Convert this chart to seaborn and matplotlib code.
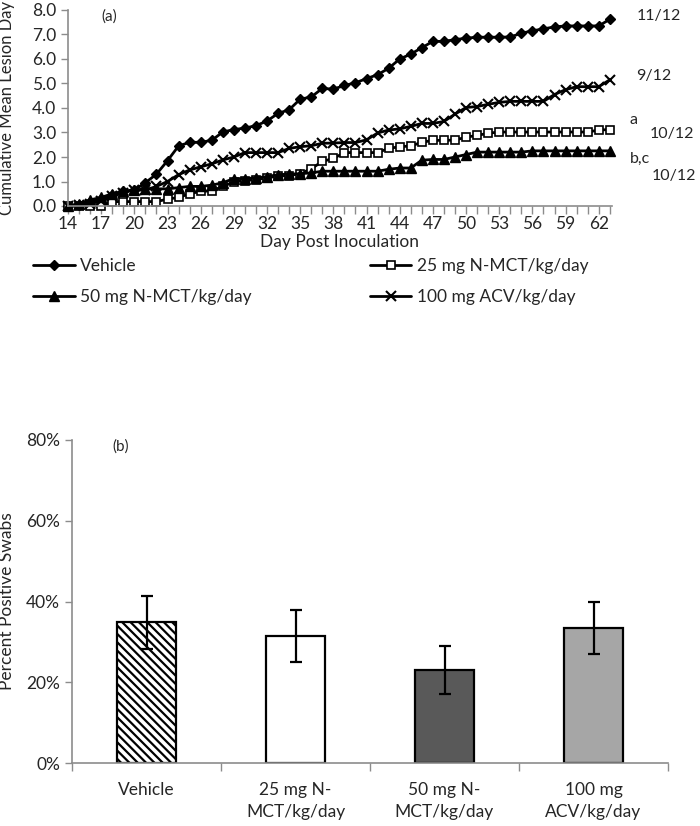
import numpy as np
import pandas as pd
import matplotlib
matplotlib.use("Agg")
import matplotlib.pyplot as plt
from matplotlib.lines import Line2D
from matplotlib.ticker import MultipleLocator, FuncFormatter
import seaborn as sns

sns.set_theme(style="white")
plt.rcParams['font.family'] = ['Lato', 'DejaVu Sans']
plt.rcParams['hatch.linewidth'] = 1.6

# ---------------- data: panel (a) ----------------
days = list(range(14, 64))
vehicle = [0, 0.05, 0.15, 0.3, 0.45, 0.6, 0.65, 0.95, 1.3, 1.85,
           2.45, 2.6, 2.6, 2.68, 3.02, 3.12, 3.18, 3.28, 3.47, 3.78,
           3.93, 4.36, 4.45, 4.8, 4.77, 4.92, 5.03, 5.2, 5.36, 5.62,
           6.0, 6.2, 6.46, 6.72, 6.72, 6.79, 6.85, 6.89, 6.89, 6.89,
           6.9, 7.05, 7.15, 7.23, 7.31, 7.35, 7.35, 7.35, 7.35, 7.62]
nmct25 = [0, 0, 0, 0, 0.18, 0.18, 0.18, 0.18, 0.18, 0.28,
          0.35, 0.5, 0.6, 0.62, 0.8, 0.98, 1.04, 1.07, 1.15, 1.22,
          1.24, 1.32, 1.52, 1.82, 1.94, 2.18, 2.18, 2.18, 2.18, 2.35,
          2.42, 2.45, 2.6, 2.68, 2.68, 2.69, 2.81, 2.88, 2.97, 3.02,
          3.02, 3.02, 3.02, 3.02, 3.02, 3.02, 3.02, 3.02, 3.1, 3.12]
nmct50 = [0, 0.1, 0.25, 0.35, 0.5, 0.6, 0.65, 0.7, 0.7, 0.7,
          0.75, 0.8, 0.8, 0.85, 0.95, 1.12, 1.12, 1.15, 1.2, 1.28,
          1.3, 1.32, 1.35, 1.42, 1.42, 1.42, 1.42, 1.42, 1.42, 1.5,
          1.55, 1.55, 1.87, 1.9, 1.9, 2.0, 2.1, 2.2, 2.2, 2.2,
          2.2, 2.2, 2.25, 2.25, 2.25, 2.25, 2.25, 2.25, 2.25, 2.25]
acv100 = [0, 0.05, 0.1, 0.2, 0.4, 0.55, 0.65, 0.65, 0.8, 1.0,
          1.28, 1.47, 1.6, 1.72, 1.88, 2.0, 2.18, 2.18, 2.18, 2.18,
          2.35, 2.42, 2.46, 2.56, 2.57, 2.59, 2.59, 2.7, 2.98, 3.1,
          3.15, 3.25, 3.37, 3.37, 3.45, 3.75, 4.02, 4.06, 4.15, 4.23,
          4.27, 4.27, 4.27, 4.27, 4.55, 4.75, 4.87, 4.87, 4.87, 5.15]
series_names = ["Vehicle", "25 mg N-MCT/kg/day", "50 mg N-MCT/kg/day", "100 mg ACV/kg/day"]
end_labels = ["11/12", "9/12", "a", "10/12", "b,c", "10/12"]
end_label_y = [7.74, 5.29, 3.53, 2.94, 1.93, 1.22]
end_label_x = [65.4, 65.4, 64.8, 66.6, 64.8, 66.8]

# ---------------- data: panel (b) ----------------
bar_labels = ["Vehicle", "25 mg N-\nMCT/kg/day", "50 mg N-\nMCT/kg/day", "100 mg\nACV/kg/day"]
bar_values = [0.348, 0.314, 0.230, 0.334]
bar_errors = [0.066, 0.065, 0.060, 0.065]
bar_colors = ["white", "white", "#595959", "#a6a6a6"]

spine_col = "#8c8c8c"
fs = 12.5

W, H = 700.0, 826.0
fig = plt.figure(figsize=(7.0, 8.26), dpi=100)
axA = fig.add_axes([68 / W, 1 - 206 / H, (612 - 68) / W, (206 - 10) / H])
axB = fig.add_axes([72 / W, 1 - 763 / H, (668 - 72) / W, (763 - 440) / H])

# ---------- panel (a) ----------
dfA = pd.DataFrame({"day": days * 4,
                    "value": vehicle + nmct25 + nmct50 + acv100,
                    "group": sum([[n] * len(days) for n in series_names], [])})
styles = {
    "Vehicle": dict(marker="D", ms=5.5, mfc="black", mec="black", mew=1),
    "25 mg N-MCT/kg/day": dict(marker="s", ms=6, mfc="white", mec="black", mew=1.2),
    "50 mg N-MCT/kg/day": dict(marker="^", ms=7, mfc="black", mec="black", mew=1),
    "100 mg ACV/kg/day": dict(marker="x", ms=7, mfc="black", mec="black", mew=1.5),
}
handles = {}
for name in series_names:
    sub = dfA[dfA.group == name]
    st = styles[name]
    sns.lineplot(data=sub, x="day", y="value", ax=axA, color="black", lw=2,
                 marker=st["marker"], markersize=st["ms"], markerfacecolor=st["mfc"],
                 markeredgecolor=st["mec"], markeredgewidth=st["mew"], clip_on=False,
                 legend=False)
    handles[name] = Line2D([], [], color="black", lw=2, marker=st["marker"],
                           markersize=st["ms"], markerfacecolor=st["mfc"],
                           markeredgecolor=st["mec"], markeredgewidth=st["mew"], label=name)

axA.set_xlim(14, 63.2)
axA.set_ylim(0, 8.0)
axA.xaxis.set_minor_locator(MultipleLocator(1))
axA.set_xticks(list(range(14, 64, 3)))
axA.yaxis.set_major_locator(MultipleLocator(1))
axA.yaxis.set_major_formatter(FuncFormatter(lambda v, p: f"{v:.1f}"))
for s in ["top", "right"]:
    axA.spines[s].set_visible(False)
for s in ["left", "bottom"]:
    axA.spines[s].set_color(spine_col)
    axA.spines[s].set_linewidth(1.2)
axA.tick_params(axis="both", which="both", direction="out", color=spine_col, labelsize=fs)
axA.tick_params(axis="x", which="major", length=6, width=1, bottom=True, pad=1.5)
axA.tick_params(axis="x", which="minor", length=6, width=1, bottom=True)
axA.tick_params(axis="y", which="major", length=5, width=1, left=True)
axA.set_xlabel("Day Post Inoculation", fontsize=fs, labelpad=1)
axA.set_ylabel("Cumulative Mean Lesion Day", fontsize=12)
axA.yaxis.set_label_coords(-0.098, 0.5)
axA.grid(False)
axA.text(17, 7.75, "(a)", fontsize=11, va="center", ha="left")
for t, x, y in zip(end_labels, end_label_x, end_label_y):
    axA.text(x, y, t, fontsize=11.5, ha="left", va="center", clip_on=False)

leg_order = ["Vehicle", "50 mg N-MCT/kg/day", "25 mg N-MCT/kg/day", "100 mg ACV/kg/day"]
fig.legend(handles=[handles[n] for n in leg_order],
           loc="upper left", bbox_to_anchor=(0.025, 1 - 242 / H), ncol=2,
           frameon=False, fontsize=fs, handlelength=2.4, handletextpad=0.3,
           columnspacing=6.8, labelspacing=0.9)

# ---------- panel (b) ----------
dfB = pd.DataFrame({"group": bar_labels, "value": bar_values})
sns.barplot(data=dfB, x="group", y="value", ax=axB, hue="group", palette=bar_colors,
            edgecolor="black", linewidth=1.6, width=0.4, legend=False)
axB.patches[0].set_hatch("\\\\\\\\")
axB.errorbar(x=np.arange(len(bar_values)), y=bar_values, yerr=bar_errors, fmt="none",
             ecolor="black", elinewidth=1.6, capsize=4, capthick=1.6)
axB.set_ylim(0, 0.8)
axB.set_xlim(-0.5, 3.5)
axB.yaxis.set_major_locator(MultipleLocator(0.2))
axB.yaxis.set_major_formatter(FuncFormatter(lambda v, p: f"{v*100:.0f}%"))
axB.set_xticks(range(4))
axB.set_xticklabels(bar_labels, linespacing=1.45)
axB.set_xticks([-0.5, 0.5, 1.5, 2.5, 3.5], minor=True)
for s in ["top", "right"]:
    axB.spines[s].set_visible(False)
for s in ["left", "bottom"]:
    axB.spines[s].set_color(spine_col)
    axB.spines[s].set_linewidth(1.2)
axB.tick_params(axis="x", which="major", length=0, labelsize=fs, pad=14)
axB.tick_params(axis="x", which="minor", length=6, width=1, color=spine_col, direction="out", bottom=True)
axB.tick_params(axis="y", which="major", length=5, width=1, color=spine_col, direction="out",
                left=True, labelsize=fs)
axB.set_xlabel("")
axB.set_ylabel("Percent Positive Swabs", fontsize=fs)
axB.yaxis.set_label_coords(-0.095, 0.5)
axB.grid(False)
axB.text(-0.23, 0.785, "(b)", fontsize=11, va="center", ha="left")

fig.savefig("out.png", dpi=100)
